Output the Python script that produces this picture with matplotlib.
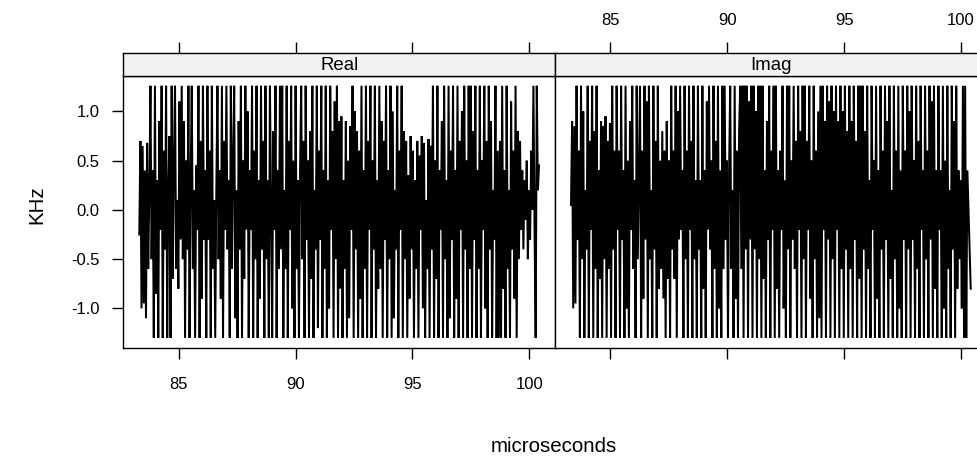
import numpy as np
import matplotlib
matplotlib.use("Agg")
import matplotlib.pyplot as plt

plt.rcParams['font.family'] = ['Liberation Sans', 'DejaVu Sans']
plt.rcParams['axes.unicode_minus'] = False

# ---- data (values in hundredths of KHz) ----
t_start = 83.31   # microseconds
t_end = 100.42

real_vals = [
    -25, 70, -100, 65, -95, 40, -110, 68, -60, 20,
    126, -50, 40, -130, 126, -85, 30, -130, 90, -20, 126, -130, 60, -40, 126, -130, 20, 75, -130, 126, -70, 50,
    126, -60, 10, -80, 110, -30, 126, -50, 90,
    -130, 50, -40, 126, -130, 30, 126, -60, 20, -130, 45, -20, 126, -130,
    70, -90, 126, -30, 40, -130, 126, -30, 60, -130, 126, -60, 10, -130, 20, 126, -50, 40, -90, 126, -130, 70,
    -20, 126, -40, 30, -130, 126, -60, 50, 126, -110, 20, -130, 90, -40,
    126, -130, 50, -70, 126, -20, 100, -130, 40, -20, 126, -130, 60, -50, 126, -130, 30, -90, 126, -40, 70, -130,
    126, -50, 30, -130, 126, 10, -130, 80, -20, 126, -130, 40, -60, 126, -40, 126, -130, 20, -60, 126, -130, 70,
    -20, 126, -100, 50, -130, 126, -60, 30, -130, 40,
    126, -50, 70, -130, 126, -30, 50, -130, 80, -70, 126, -130, 20, -40, 126, -120, 60, -30, 126, -130, 40, -60,
    126, -130, 30, -100, 126, -20, 80, -130, 110, -50, 126, -130, 90, -80,
    95, -130, 30, -60, 90, -130, 50, -110, 85, -20, 126, -130, 100, -40, 80, -130, 60, -90,
    126, -130, 40, -60, 126, -130, 70, -20, 126, -130, 50, -40, 126, -130, 30, -80, 126, -60, 90, -130,
    70, -30, 126, -130, 40, -50, 126, -130, 100, -110, 20, -40, 126, -130, 60, -20, 126, -130, 80, -50,
    70, -130, 35, -90, 75, -40, 60, -130, 30, -60, 70, -130, 55, -20, 75, -100, 68, -130, 10, -60, 72, -130, 65, -40,
    126, -130, 50, -70, 126, -130, 40, -20, 90, -130, 126, -50, 30, -130, 126, -110, 60, -30, 126, -130, 40, -90,
    126, -130, 70, -20, 100, -130, 126, -40, 50, -130, 126, -60,
    126, -130, 80, -30, 126, -130, 40, -60, 126, -130, 50, -20, 126, -100, 70, -130, 126, -40, 90, -130, 20, -30,
    126, -130, 60, -130, 70,
    -130, 126, -80, 40, -130, 126, -60, 20, -130, 110, -40, 60, -90, 126, -130, 80, -50, 70,
    -20, 40, -40, 30, -10, 50, -50, 20, -30, 60, 0, 126, -20,
    -130, 126, 20, 45,
]

imag_vals = [
    5, 90, -100, 85, -95,
    126, -30, 60, -130, 126, -50, 100, -130, 20, -40, 126, -130, 70, -20, 126, -130, 80, -60, 126, -130, 40, -70,
    90, -130, 85, -50, 95, -130, 70, -60, 88,
    -130, 126, -40, 60, -130, 126, -20, 60, -130, 126, -30, 40, -130, 126, -100, 50, -130, 90, -20, 126, -60, 30,
    -130, 126, -50, 40, 126, -130, 60, -90, 126, -30, 110, -130, 126, -50, 20, -130, 126, -40, 70, -130, 126, -80, 50,
    -60, 80, -90, 60, -130, 90, -70, 50, -130,
    126, -40, 60, -70, 126, -130, 100, -30, 126, -20, 40, -130, 126, -50, 60, -130, 126, -20, 70, -130, 126, -50,
    30, -130, 126, -40, 30, -130, 126, -80, 40, -130, 110, -20, 126, -40, 50, -130, 126, -60, 70, -130, 126, -100,
    40, -130, 126, -60, 126, -30, 50, -130, 40, 126, -60, 20, -130, 126, -90, 60, -130, 80, 126,
    -60, 126, -130, 126, -40, 126, -130, 110, -30, 126, -130, 126, -40, 100, -130, 126, -50, 126,
    -130, 126, -70, 40, -130, 90, -30, 126, -130, 60, -20, 126, -130, 126, -80, 40, -130, 60, -20, 126, -100, 30,
    -130, 126, -40, 126, -130, 50, -30, 126, -60, 70, -130, 126, -20, 80, -130, 126, -50, 126, -130, 70, -20, 126,
    -90, 50, -130, 126, -50, 60, -130, 100, -110, 126,
    -130, 126, -20, 90, -130, 126, -30, 110, -130, 126, -50, 100, -130, 126, -20, 90, -130, 126, -60, 100, -130, 126,
    -40, 80, -130, 126, -60, 90, -130, 126, -30, 70, -130, 126, -70, 126,
    -130, 126, -40, 80, -130, 126, -60, 30, -130, 126, -20, 50, -130, 126, -90, 40, -130, 126, -40, 60, -130, 126,
    -30, 90, -130, 126, -70, 20, -130, 126, -50, 60, -130, 126, -100, 40,
    -130, 126, -30, 60, -130, 126, -40, 100, -130, 126, -30, 50, -130, 126, -60, 70, -130, 126, -20, 40, -130, 126,
    -50, 60, -130, 126, -30, 110, -130, 126, -80, 40, -130, 126, -20, 40, -130, 126, -100, 50, -130, 126, -60, 20,
    -130, 126, -40, 90, -130, 126,
    -80, 40, -50, 30, -100, 126, -130, 126, -130, 40, 0, -40, -80,
]

panel_names = ["Real", "Imag"]
x_ticks = [85, 90, 95, 100]
y_ticks = [-1.0, -0.5, 0.0, 0.5, 1.0]
y_tick_labels = ["-1.0", "-0.5", "0.0", "0.5", "1.0"]
x_label = "microseconds"
y_label = "KHz"

series = [np.array(real_vals) / 100.0, np.array(imag_vals) / 100.0]

# ---- layout ----
W, H = 978, 459
fig = plt.figure(figsize=(W / 100, H / 100), dpi=100)

def fx(px):
    return px / W

def fy(py):
    return 1 - py / H

panel_left = [123.3, 555.0]
panel_w = 431.7
panel_top, panel_bot = 75.7, 348.0
strip_top = 53.3

all_y = np.concatenate(series)
ymin, ymax = all_y.min(), all_y.max()
ypad = 0.04 * (ymax - ymin)
xpad = 0.04 * (t_end - t_start)
xlim = (t_start - xpad, t_end + xpad)
ylim = (ymin - ypad, ymax + ypad)

tick_len = 8
lw_frame = 1.0
fs_tick = 12
fs_lab = 14.8
fs_strip = 13.4

for i, (name, vals) in enumerate(zip(panel_names, series)):
    ax = fig.add_axes([fx(panel_left[i]), fy(panel_bot), fx(panel_w), (panel_bot - panel_top) / H])
    t = np.linspace(t_start, t_end, len(vals))
    ax.plot(t, vals, color="black", lw=1.45, solid_joinstyle="miter")
    ax.set_xlim(*xlim)
    ax.set_ylim(*ylim)
    for s in ax.spines.values():
        s.set_linewidth(lw_frame)
    ax.set_xticks(x_ticks)
    ax.set_yticks(y_ticks)
    ax.tick_params(axis="both", direction="out", length=tick_len, width=lw_frame,
                   labelsize=fs_tick, colors="black")
    ax.tick_params(axis="x", pad=13)
    ax.tick_params(axis="y", pad=9.0)
    if i == 0:
        ax.set_yticklabels(y_tick_labels)
        ax.tick_params(axis="y", left=True, right=False, labelleft=True)
        ax.tick_params(axis="x", bottom=True, labelbottom=True)
    else:
        ax.tick_params(axis="y", left=False, right=True, labelleft=False, labelright=False)
        ax.tick_params(axis="x", bottom=True, labelbottom=False)

    # strip
    sx = fig.add_axes([fx(panel_left[i]), fy(panel_top), fx(panel_w), (panel_top - strip_top) / H])
    sx.set_facecolor("#f2f2f2")
    sx.set_xlim(*xlim)
    sx.set_ylim(0, 1)
    sx.set_yticks([])
    sx.set_xticks(x_ticks)
    for s in sx.spines.values():
        s.set_linewidth(lw_frame)
    sx.tick_params(axis="x", direction="out", length=tick_len, width=lw_frame,
                   labelsize=fs_tick, bottom=False, labelbottom=False, top=True,
                   labeltop=(i == 1), pad=10.5)
    sx.text(0.5, 0.47, name, transform=sx.transAxes, ha="center", va="center",
            fontsize=fs_strip)

fig.text(fx(554), fy(447), x_label, ha="center", va="center", fontsize=fs_lab)
fig.text(fx(37), fy(205), y_label, ha="center", va="center", rotation=90, fontsize=fs_lab)

fig.savefig("out.png", dpi=100)
